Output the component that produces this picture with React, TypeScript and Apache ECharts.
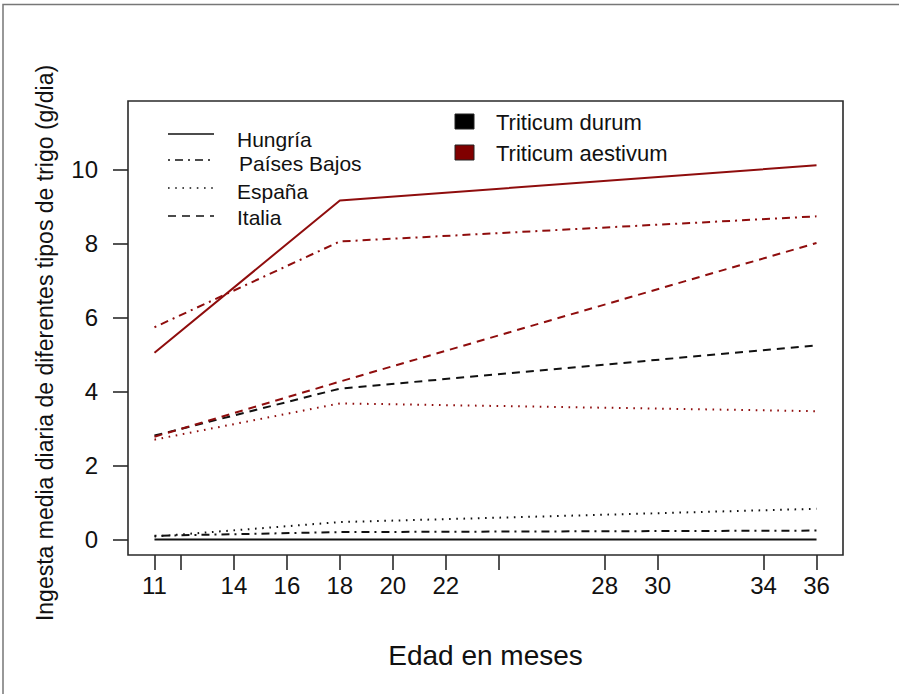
import React, { useEffect, useRef } from "react";
import * as echarts from "echarts";

// Edad (meses) at which intake was estimated
const months = [11, 18, 36];

// Mean daily intake (g/día) per country and wheat type
const hungriaDurum = [0, 0, 0];
const hungriaAestivum = [5.05, 9.17, 10.12];
const paisesBajosDurum = [0.1, 0.2, 0.24];
const paisesBajosAestivum = [5.74, 8.06, 8.74];
const espanaDurum = [0.08, 0.47, 0.83];
const espanaAestivum = [2.7, 3.68, 3.47];
const italiaDurum = [2.81, 4.08, 5.25];
const italiaAestivum = [2.78, 4.27, 8.02];

const countries = ["Hungría", "Países Bajos", "España", "Italia"];
const wheatTypes = ["Triticum durum", "Triticum aestivum"];

const xTicks = [11, 12, 14, 16, 18, 20, 22, 24, 28, 30, 34, 36];
const xTickLabels = [11, 14, 16, 18, 20, 22, 28, 30, 34, 36];
const yTicks = [0, 2, 4, 6, 8, 10];

const FONT = "'Liberation Sans', Arial, Helvetica, sans-serif";
const DURUM = "#111111";
const AESTIVUM = "#8f0d0d";

const dashStyles: Record<string, "solid" | number[]> = {
  "Hungría": "solid",
  "Países Bajos": [2, 5, 8, 5],
  "España": [1.6, 5.6],
  "Italia": [8, 6],
};

const pairs = (ys: number[]) => months.map((m, i) => [m, ys[i]]);

export default function App() {
  const ref = useRef<HTMLDivElement>(null);

  useEffect(() => {
    document.body.style.margin = "0";
    if (!ref.current) return;
    const chart = echarts.init(ref.current, undefined, { renderer: "svg" });

    const seriesData: [string, string, number[]][] = [
      ["Hungría", wheatTypes[0], hungriaDurum],
      ["Países Bajos", wheatTypes[0], paisesBajosDurum],
      ["España", wheatTypes[0], espanaDurum],
      ["Italia", wheatTypes[0], italiaDurum],
      ["Hungría", wheatTypes[1], hungriaAestivum],
      ["Países Bajos", wheatTypes[1], paisesBajosAestivum],
      ["España", wheatTypes[1], espanaAestivum],
      ["Italia", wheatTypes[1], italiaAestivum],
    ];

    const series = seriesData.map(([country, wheat, ys]) => ({
      type: "line" as const,
      name: `${country} – ${wheat}`,
      data: pairs(ys),
      showSymbol: false,
      symbol: "none",
      silent: true,
      lineStyle: {
        color: wheat === wheatTypes[0] ? DURUM : AESTIVUM,
        width: 2,
        type: dashStyles[country] as any,
        cap: "butt" as const,
      },
    }));

    // Line-type key (countries)
    const lineKeyY = [134, 160, 188, 216];
    const lineKey: any[] = [];
    countries.forEach((c, i) => {
      lineKey.push({
        type: "line",
        shape: { x1: 168, y1: lineKeyY[i], x2: 214, y2: lineKeyY[i] },
        style: {
          stroke: "#111",
          lineWidth: 1.6,
          lineDash: dashStyles[c] === "solid" ? null : dashStyles[c],
        },
      });
      lineKey.push({
        type: "text",
        x: c === "Países Bajos" ? 239 : 237,
        y: [139, 163, 191, 217][i],
        style: {
          text: c,
          fill: "#111",
          font: `21px ${FONT}`,
          align: "left",
          verticalAlign: "middle",
        },
      });
    });

    // Colour key (wheat types)
    const colorKey: any[] = [];
    wheatTypes.forEach((w, i) => {
      const y = [114, 145][i];
      colorKey.push({
        type: "rect",
        shape: { x: 455, y, width: 19, height: 15 },
        style: { fill: i === 0 ? "#000" : "#800000", stroke: "#222", lineWidth: 1 },
      });
      colorKey.push({
        type: "text",
        x: 496,
        y: y + 8,
        style: {
          text: w,
          fill: "#111",
          font: `22px ${FONT}`,
          align: "left",
          verticalAlign: "middle",
        },
      });
    });

    chart.setOption({
      animation: false,
      backgroundColor: "#ffffff",
      grid: {
        left: 128,
        right: 56,
        top: 101,
        bottom: 139,
        show: true,
        borderColor: "#2a2a2a",
        borderWidth: 1.6,
        backgroundColor: "transparent",
      },
      xAxis: {
        type: "value",
        min: 10,
        max: 37,
        name: "Edad en meses",
        nameLocation: "middle",
        nameGap: 86,
        nameTextStyle: { fontFamily: FONT, fontSize: 28, color: "#111" },
        axisLine: { show: false, onZero: false },
        splitLine: { show: false },
        axisTick: {
          show: true,
          length: 15,
          customValues: xTicks,
          lineStyle: { color: "#2a2a2a", width: 1.6 },
        },
        axisLabel: {
          customValues: xTickLabels,
          margin: 18,
          fontFamily: FONT,
          fontSize: 24,
          color: "#111",
        },
      },
      yAxis: {
        type: "value",
        min: -0.42,
        max: 11.86,
        axisLine: { show: false, onZero: false },
        splitLine: { show: false },
        axisTick: {
          show: true,
          length: 15,
          customValues: yTicks,
          lineStyle: { color: "#2a2a2a", width: 1.6 },
        },
        axisLabel: {
          customValues: yTicks,
          margin: 30,
          fontFamily: FONT,
          fontSize: 24,
          color: "#111",
        },
      },
      series,
      graphic: [
        // outer frame
        {
          type: "polyline",
          shape: { points: [[3, 700], [3, 4.5], [899, 4.5]] },
          style: { stroke: "#777", lineWidth: 1.5, fill: null },
          silent: true,
        },
        {
          type: "text",
          x: 45,
          y: 343,
          rotation: Math.PI / 2,
          style: {
            text: "Ingesta media diaria de diferentes tipos de trigo (g/dia)",
            fill: "#111",
            font: `23px ${FONT}`,
            align: "center",
            verticalAlign: "middle",
          },
        },
        ...lineKey,
        ...colorKey,
      ],
    });

    return () => chart.dispose();
  }, []);

  return <div ref={ref} style={{ width: 899, height: 694 }} />;
}
